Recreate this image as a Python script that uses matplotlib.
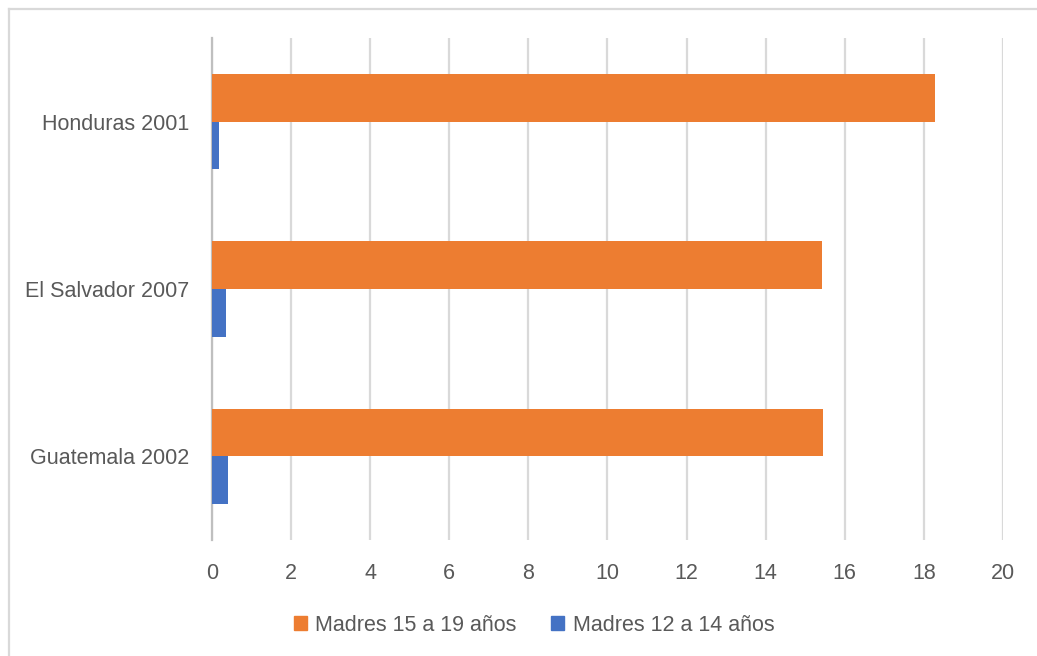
import matplotlib

matplotlib.use("Agg")
import matplotlib.pyplot as plt
from matplotlib.lines import Line2D
from matplotlib.patches import Patch

# Categories bottom-to-top, as Excel draws a bar chart.
countries = ["Guatemala 2002", "El Salvador 2007", "Honduras 2001"]
mothers_15_19 = [15.45, 15.42, 18.29]
mothers_12_14 = [0.41, 0.35, 0.19]
series_labels = ["Madres 15 a 19 años", "Madres 12 a 14 años"]
x_ticks = [0, 2, 4, 6, 8, 10, 12, 14, 16, 18, 20]

ORANGE = "#ED7D31"
BLUE = "#4472C4"
TEXT = "#595959"
GRID = "#D9D9D9"

plt.rcParams["font.family"] = ["Liberation Sans", "DejaVu Sans"]

fig = plt.figure(figsize=(10.37, 6.56), dpi=100)
ax = fig.add_axes([0.2044, 0.177, 0.7628, 0.765])

bar_height = 0.285
positions = list(range(len(countries)))
ax.barh([p + bar_height / 2 for p in positions], mothers_15_19,
        height=bar_height, color=ORANGE, zorder=3)
ax.barh([p - bar_height / 2 for p in positions], mothers_12_14,
        height=bar_height, color=BLUE, zorder=3)

ax.set_xlim(0, 20)
ax.set_ylim(-0.5, 2.5)
ax.set_xticks(x_ticks)
ax.set_yticks(positions)
ax.set_yticklabels(countries)
ax.xaxis.grid(True, color=GRID, linewidth=1.6, zorder=0)
ax.tick_params(axis="both", length=0, labelsize=15.5, colors=TEXT)
ax.tick_params(axis="x", pad=17)
ax.tick_params(axis="y", pad=16)
for side in ("top", "right", "bottom"):
    ax.spines[side].set_visible(False)
ax.spines["left"].set_color("#BFBFBF")
ax.spines["left"].set_linewidth(1.6)

handles = [Patch(color=ORANGE), Patch(color=BLUE)]
fig.legend(handles, series_labels, loc="center", bbox_to_anchor=(0.515, 0.047),
           ncol=2, frameon=False, fontsize=15.5, labelcolor=TEXT,
           handlelength=0.6, handleheight=0.6, handletextpad=0.4,
           columnspacing=1.6)

# Chart frame: only its top and left edges show in the screenshot.
fig.add_artist(Line2D([0.0087, 0.0087], [0, 0.986], transform=fig.transFigure,
                      color="#D9D9D9", linewidth=1.6))
fig.add_artist(Line2D([0.0087, 1.0], [0.986, 0.986], transform=fig.transFigure,
                      color="#D9D9D9", linewidth=1.6))

fig.savefig("out.png", dpi=100)
